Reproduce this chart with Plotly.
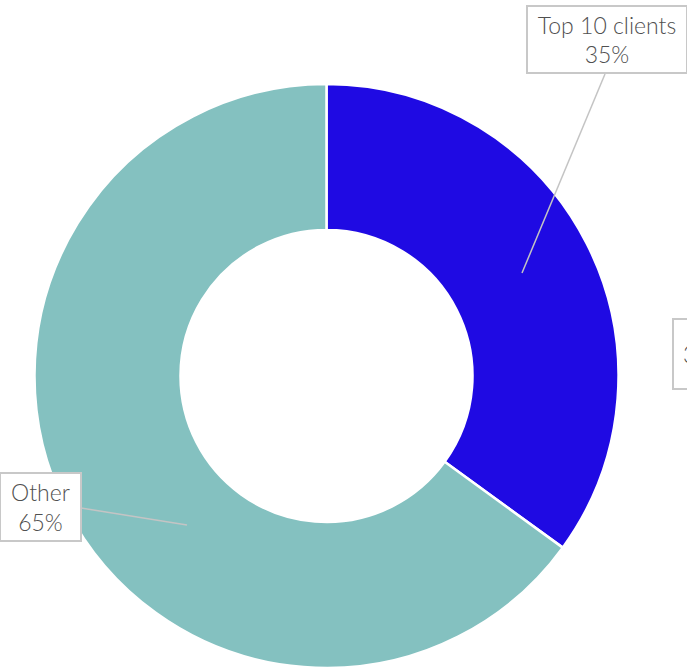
import plotly.graph_objects as go

# Share of revenue
categories = ["Top 10 clients", "Other"]
shares = [35, 65]
colors = ["#1f0ae3", "#84c1c0"]

W, H = 687, 668
ML, MR, MT, MB = 34, 68, 84, 0
PW, PH = W - ML - MR, H - MT - MB


def px(x):
    return (x - ML) / PW


def py(y):
    return (H - MB - y) / PH


fig = go.Figure(
    go.Pie(
        labels=categories,
        values=shares,
        hole=0.5,
        sort=False,
        direction="clockwise",
        rotation=0,
        marker=dict(colors=colors, line=dict(color="white", width=2.5)),
        textinfo="none",
        hoverinfo="label+percent",
        showlegend=False,
    )
)

label_font = dict(family="Lato, 'Open Sans', sans-serif", size=23, color="#505050", weight=300)
box = dict(bgcolor="white", bordercolor="#c8c8c8", borderwidth=2, borderpad=2,
           font=label_font, showarrow=False, xref="paper", yref="paper")

# label boxes: (text, x, centre y, width, height, anchor, align, pad) in pixels
labels = [
    (f"{categories[0]}<br>{shares[0]}%", 606.5, 40, 154, 61, "center", "center", 2),
    (f"{categories[1]}<br>{shares[1]}%", 40, 506.5, 75, 62, "center", "center", 2),
    (f"{shares[0]}%", 672, 354, 60, 50, "left", "left", 9),
]
annotations = []
for t, x, cy, w, h, xa, al, pad in labels:
    a = dict(text=t, x=px(x), y=py(cy), xanchor=xa, yanchor="middle", align=al,
             width=w, height=h, **box)
    a["borderpad"] = pad
    annotations.append(a)

# leader lines from the boxes to the ring
leaders = [((605, 74), (522, 273)), ((81, 508), (187, 525))]
shapes = [
    dict(type="line", xref="paper", yref="paper",
         x0=px(a[0]), y0=py(a[1]), x1=px(b[0]), y1=py(b[1]),
         line=dict(color="#c4c4c4", width=1.5))
    for a, b in leaders
]

fig.update_layout(
    width=W, height=H,
    margin=dict(l=ML, r=MR, t=MT, b=MB, pad=0),
    paper_bgcolor="white", plot_bgcolor="white",
    annotations=annotations, shapes=shapes,
)

fig.write_html("out.html")
